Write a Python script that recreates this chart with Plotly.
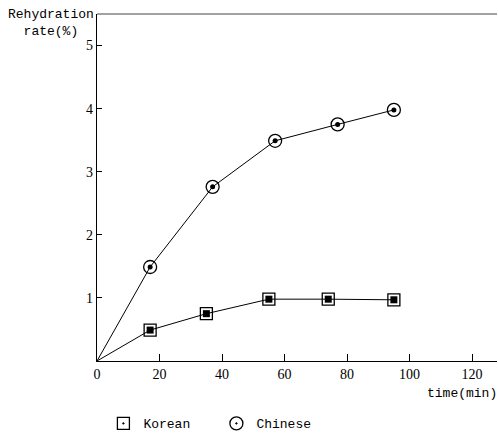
import plotly.graph_objects as go

# Data
korean_time = [0, 17, 35, 55, 74, 95]
korean_rate = [0, 0.49, 0.75, 0.98, 0.98, 0.97]
chinese_time = [0, 17, 37, 57, 77, 95]
chinese_rate = [0, 1.49, 2.76, 3.49, 3.75, 3.98]

x_ticks = [0, 20, 40, 60, 80, 100, 120]
y_ticks = [1, 2, 3, 4, 5]

serif = "Liberation Serif"
mono = "Liberation Mono"

fig = go.Figure()

series = [
    ("Korean", korean_time, korean_rate, "square-open-dot", 12, "square", 7),
    ("Chinese", chinese_time, chinese_rate, "circle-open-dot", 13, "circle", 5),
]
for name, xs, ys, outer_sym, outer_size, inner_sym, inner_size in series:
    # connecting line (from the origin)
    fig.add_trace(go.Scatter(
        x=xs, y=ys, mode="lines", showlegend=False, legendgroup=name,
        line=dict(color="black", width=1), hoverinfo="skip",
    ))
    # outer open marker (shown in legend)
    fig.add_trace(go.Scatter(
        x=xs[1:], y=ys[1:], mode="markers", name=name, legendgroup=name,
        marker=dict(symbol=outer_sym, size=outer_size, color="black",
                    line=dict(color="black", width=1.3)),
    ))
    # inner filled marker
    fig.add_trace(go.Scatter(
        x=xs[1:], y=ys[1:], mode="markers", showlegend=False, legendgroup=name,
        marker=dict(symbol=inner_sym, size=inner_size, color="black"),
    ))

fig.update_layout(
    width=498, height=435,
    margin=dict(l=97, r=1, t=14, b=74, autoexpand=False),
    paper_bgcolor="white", plot_bgcolor="white",
    font=dict(family=serif, size=13, color="black"),
    showlegend=True,
    legend=dict(orientation="h", x=0.016, y=-0.18, xanchor="left", yanchor="middle",
                font=dict(family=mono, size=13), entrywidth=68,
                bgcolor="rgba(0,0,0,0)"),
)
fig.update_xaxes(
    range=[0, 128], tickvals=x_ticks, ticktext=[str(v) for v in x_ticks],
    showgrid=False, zeroline=False, showline=True, linecolor="black", linewidth=1.2,
    ticks="inside", ticklen=7, tickcolor="black", tickwidth=1,
    tickfont=dict(family=serif, size=14),
)
fig.update_yaxes(
    range=[0, 5.5], tickvals=y_ticks, ticktext=[str(v) for v in y_ticks],
    showgrid=False, zeroline=False, showline=True, linecolor="black", linewidth=1.2,
    ticks="inside", ticklen=5, tickcolor="black", tickwidth=1,
    tickfont=dict(family=serif, size=14),
)

# top border line
fig.add_shape(type="line", xref="paper", yref="paper", x0=0, x1=1, y0=1, y1=1,
              line=dict(color="#444", width=1))

fig.add_annotation(text="Rehydration<br>rate(%)", xref="paper", yref="paper",
                   x=0, y=1, xanchor="right", yanchor="top", yshift=9, xshift=-1,
                   showarrow=False, align="center",
                   font=dict(family=mono, size=13))
fig.add_annotation(text="time(min)", xref="paper", yref="paper",
                   x=1, y=0, xanchor="right", yanchor="top", yshift=-23, xshift=2,
                   showarrow=False, font=dict(family=mono, size=13))

fig.write_html(
    "out.html",
    config={"displayModeBar": False},
    post_script="document.body.style.margin='0';document.body.style.overflow='hidden';",
)
